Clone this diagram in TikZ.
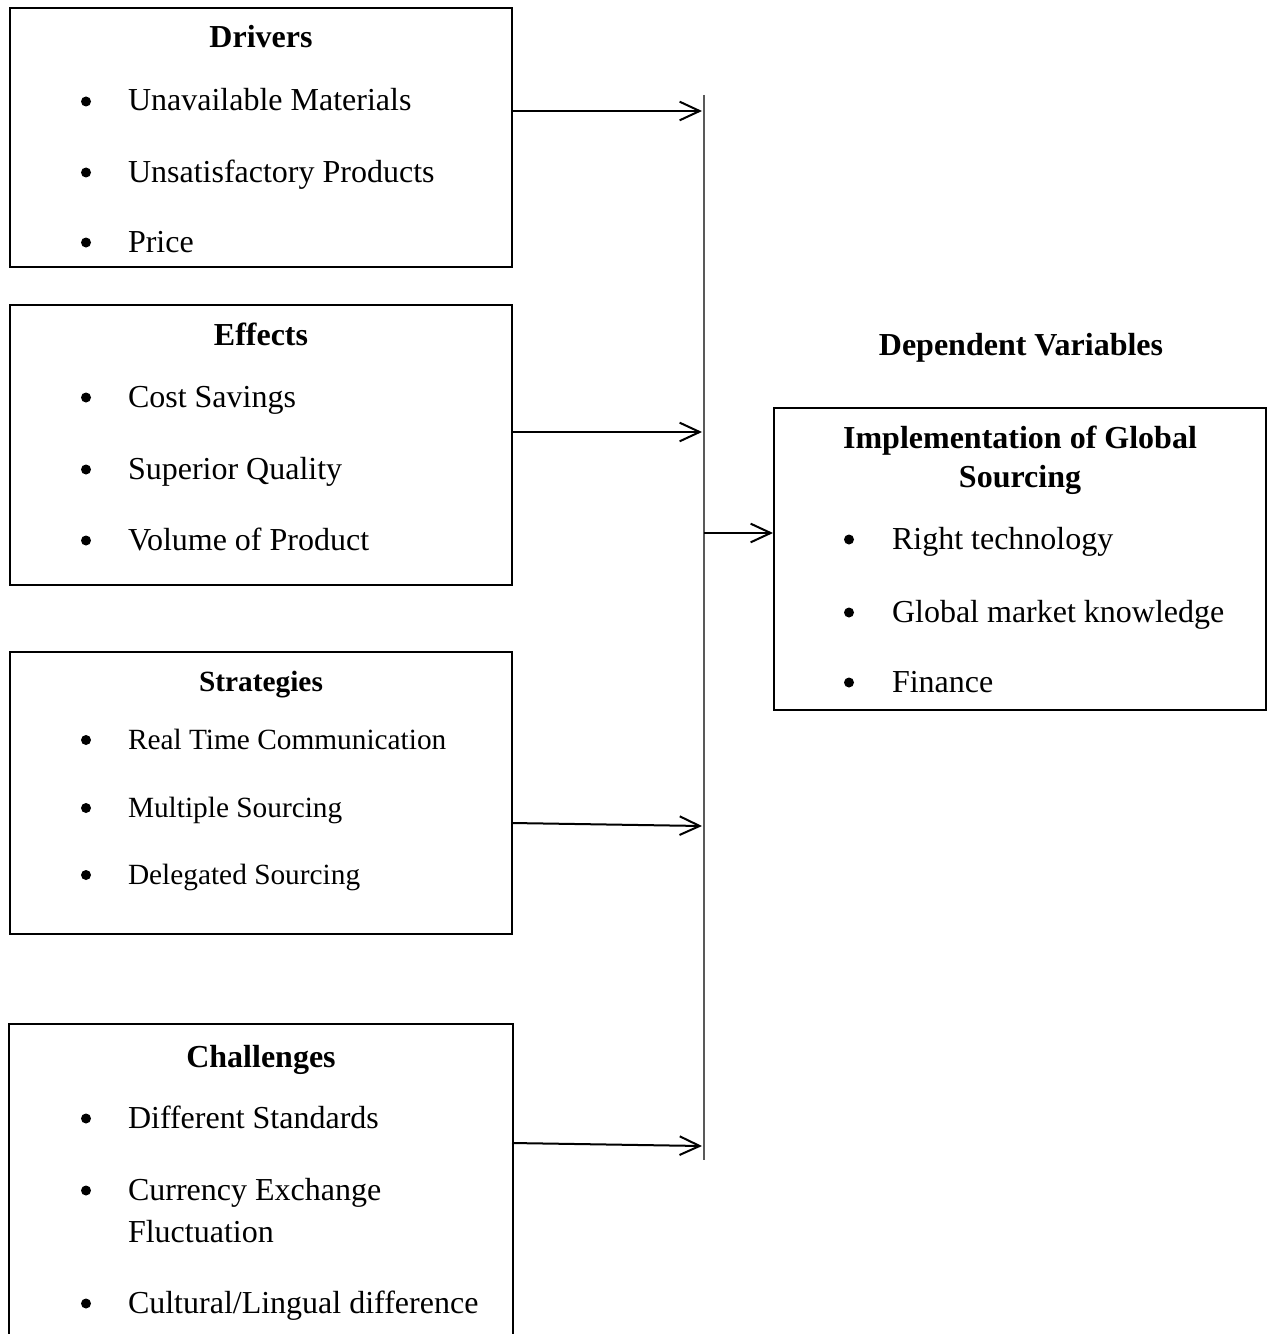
\documentclass[tikz,border=0pt]{standalone}
\usepackage{fontspec}
\setmainfont{Liberation Serif}
\usetikzlibrary{arrows.meta}

\begin{document}
\begin{tikzpicture}[x=0.375pt,y=-0.375pt,>={Straight Barb[length=7.5pt,width=7pt]},
        line width=0.75pt,
        box/.style={draw,inner sep=0pt,minimum width=188.25pt},
        head/.style={anchor=base,inner sep=0pt,font=\fontsize{12}{14.4}\selectfont\bfseries},
        shead/.style={anchor=base,inner sep=0pt,font=\fontsize{11}{13.2}\selectfont\bfseries},
        item/.style={anchor=base west,inner sep=0pt,align=left,font=\fontsize{12}{15.6}\selectfont},
        sitem/.style={anchor=base west,inner sep=0pt,font=\fontsize{11}{13.2}\selectfont},
        dot/.style={circle,fill,inner sep=0pt,minimum size=3.75pt},
        bus/.style={line width=0.5pt,draw=black!65}]
      \useasboundingbox (0,0) rectangle (1272,1334);
      % left boxes
      \node[box,minimum height=97.125pt] (drv) at (261,137.5) {};
      \node[box,minimum height=105pt] (eff) at (261,445) {};
      \node[box,minimum height=105.75pt] (str) at (261,793) {};
      \node[box,draw=none,minimum height=115.875pt] (chl) at (261,1179.5) {};
      \draw (chl.south west) -- (chl.north west) -- (chl.north east) -- (chl.south east);
      % right box
      \node[box,minimum width=184.5pt,minimum height=113.25pt] (dep) at (1020,559) {};

      \node[head] (drvt) at (261,48) {Drivers};
      \node[dot] (drvb1) at (86,101.5) {};
      \node[item] (drv1) at (127,111) {Unavailable Materials};
      \node[dot] (drvb2) at (86,172.5) {};
      \node[item] (drv2) at (127,182) {Unsatisfactory Products};
      \node[dot] (drvb3) at (86,242.5) {};
      \node[item] (drv3) at (127,252) {Price};

      \node[head] (efft) at (261,345) {Effects};
      \node[dot] (effb1) at (86,397.5) {};
      \node[item] (eff1) at (127,407) {Cost Savings};
      \node[dot] (effb2) at (86,469.5) {};
      \node[item] (eff2) at (127,479) {Superior Quality};
      \node[dot] (effb3) at (86,540.5) {};
      \node[item] (eff3) at (127,550) {Volume of Product};

      \node[shead] (strt) at (261,691) {Strategies};
      \node[dot] (strb1) at (86,740) {};
      \node[sitem] (str1) at (127,749) {Real Time Communication};
      \node[dot] (strb2) at (86,808) {};
      \node[sitem] (str2) at (127,817) {Multiple Sourcing};
      \node[dot] (strb3) at (86,875) {};
      \node[sitem] (str3) at (127,884) {Delegated Sourcing};

      \node[head] (chlt) at (261,1067) {Challenges};
      \node[dot] (chlb1) at (86,1118.5) {};
      \node[item] (chl1) at (127,1128) {Different Standards};
      \node[dot] (chlb2) at (86,1190.5) {};
      \node[item] (chl2) at (127,1242) {Currency Exchange\\Fluctuation};
      \node[dot] (chlb3) at (86,1303.5) {};
      \node[item] (chl3) at (127,1313) {Cultural/Lingual difference};

      \node[head] (dept) at (1021,355) {Dependent Variables};
      \node[head,align=center] (depn) at (1020,487) {Implementation of Global\\Sourcing};
      \node[dot] (depb1) at (849,539.5) {};
      \node[item] (dep1) at (891,549) {Right technology};
      \node[dot] (depb2) at (849,612.5) {};
      \node[item] (dep2) at (891,622) {Global market knowledge};
      \node[dot] (depb3) at (849,682.5) {};
      \node[item] (dep3) at (891,692) {Finance};

      % connectors
      \coordinate (bustop) at (704,95);
      \coordinate (busbot) at (704,1160);
      \draw[bus] (bustop) -- (busbot);
      \coordinate (a1) at (702,111);
      \coordinate (a2) at (702,432);
      \coordinate (a3s) at (512,823);
      \coordinate (a3) at (702,826);
      \coordinate (a4s) at (512,1143);
      \coordinate (a4) at (702,1146);
      \coordinate (j) at (704,533);
      \draw[->] (a1 -| drv.east) -- (a1);
      \draw[->] (a2 -| eff.east) -- (a2);
      \draw[->] (a3s) -- (a3);
      \draw[->] (a4s) -- (a4);
      \draw[->] (j) -- (j -| dep.west);
    \end{tikzpicture}
\end{document}
